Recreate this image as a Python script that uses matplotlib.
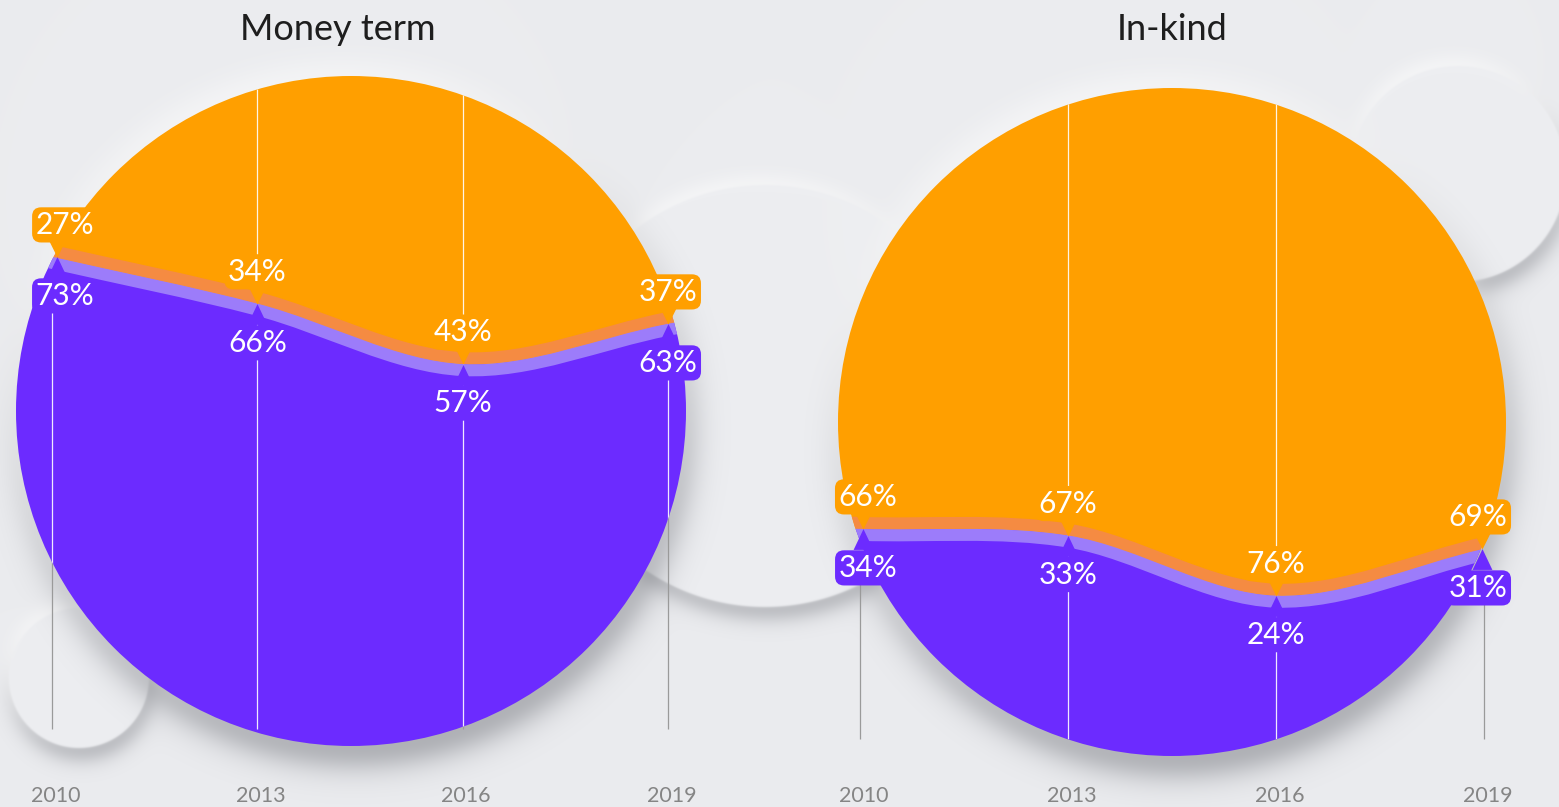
import matplotlib
matplotlib.use("Agg")
import matplotlib.pyplot as plt
from matplotlib.patches import Circle, PathPatch
from matplotlib.path import Path
from matplotlib import transforms
import numpy as np

plt.rcParams['font.family'] = ['Lato', 'DejaVu Sans']

# data
years = [2010, 2013, 2016, 2019]
money_cash = [73, 66, 57, 63]     # purple part
money_other = [27, 34, 43, 37]    # orange part
kind_cash = [34, 33, 24, 31]
kind_other = [66, 67, 76, 69]
titles = ["Money term", "In-kind"]

BG = "#EBECEF"
ORANGE = "#FF9F00"
PURPLE = "#6C2BFF"
ORANGE_BAND = "#F58B42"
PURPLE_BAND = "#9C7CFA"

W, H = 1559, 807
fig = plt.figure(figsize=(W / 100, H / 100), dpi=100, facecolor=BG)

# panel layout: (left px, top px, size px), line x pixels of first/last year, title x
panels = [
    dict(box=(16, 76, 670), xpix=(52, 668), tx=338, cash=money_cash, other=money_other,
         title=titles[0], lab_dx=[13, 0, 0, 0]),
    dict(box=(838, 88, 668), xpix=(860, 1484), tx=1172, cash=kind_cash, other=kind_other,
         title=titles[1], lab_dx=[8, 0, 0, -6]),
]
decor = [(79, 678, 70), (765, 396, 211), (1458, 174, 108)]

# soft background: blurred shadows / glows of all circles
yy, xx = np.mgrid[0:H, 0:W] + 0.5
img = np.ones((H, W, 3)) * np.array(matplotlib.colors.to_rgb(BG))


def blend(cx, cy, r, s, amax, color):
    d = np.hypot(xx - cx, yy - cy) - r
    a = amax / (1 + np.exp(np.clip(d / s, -40, 40)))
    img[:] = img * (1 - a[..., None]) + np.array(matplotlib.colors.to_rgb(color)) * a[..., None]


def neu(cx, cy, r, k, dark, face=None):
    blend(cx + 3 * k, cy + 12 * k, r, 6.5 * k, dark, '#383b44')
    blend(cx - 3 * k, cy - 8 * k, r, 6 * k, 0.75, '#ffffff')
    if face:
        blend(cx, cy, r, 0.6, 1.0, face)


for cx, cy, r in decor:
    neu(cx, cy, r, 0.9, 0.36, face='#EDEEF1')
for p in panels:
    x0, y0, s = p['box']
    neu(x0 + s / 2, y0 + s / 2, s / 2, 1.45, 0.46)

bg = fig.add_axes([0, 0, 1, 1])
bg.imshow(img, extent=(0, W, H, 0), interpolation='bilinear')
bg.set_xlim(0, W)
bg.set_ylim(H, 0)
bg.axis('off')


def smooth(xs, ys):
    pts = np.column_stack([xs, ys]).astype(float)
    verts = [pts[0]]
    codes = [Path.MOVETO]
    for i in range(len(pts) - 1):
        p0 = pts[max(i - 1, 0)]
        p1 = pts[i]
        p2 = pts[i + 1]
        p3 = pts[min(i + 2, len(pts) - 1)]
        verts += [p1 + (p2 - p0) / 6, p2 - (p3 - p1) / 6, p2]
        codes += [Path.CURVE4] * 3
    return verts, codes


down_tri = Path([(0, -1), (-1, 1), (1, 1), (0, -1)], closed=True)
up_tri = Path([(0, 1), (-0.95, -1), (0.95, -1), (0, 1)], closed=True)

for p in panels:
    x0, y0, s = p['box']

    ax = fig.add_axes([x0 / W, 1 - (y0 + s) / H, s / W, s / H])
    ax.patch.set_visible(False)
    ax.axis('off')
    a = (p['xpix'][0] - x0) / s
    b = (p['xpix'][1] - x0) / s
    span = (years[-1] - years[0]) / (b - a)
    xmin = years[0] - a * span
    ax.set_xlim(xmin, xmin + span)
    ax.set_ylim(0, 100)

    circ = Circle((0.5, 0.5), 0.5, transform=ax.transAxes, fc='none', ec='none')
    ax.add_patch(circ)

    cash = p['cash']
    xs = [years[0] - 3] + years + [years[-1] + 3]
    ys = [2 * cash[0] - cash[1]] + cash + [2 * cash[-1] - cash[-2]]
    verts, codes = smooth(xs, ys)

    low = Path(verts + [(xs[-1], -60), (xs[0], -60), (xs[0], -60)],
               codes + [Path.LINETO, Path.LINETO, Path.CLOSEPOLY])
    high = Path(verts + [(xs[-1], 160), (xs[0], 160), (xs[0], 160)],
                codes + [Path.LINETO, Path.LINETO, Path.CLOSEPOLY])
    line = Path(verts, codes)

    # grey guide lines behind the circle
    edge_top = [v - 6 for v in cash]
    ax.vlines(years, 2.5, edge_top, colors='#9a9a9a', lw=0.9, zorder=1, clip_on=False)

    for path, col in [(low, PURPLE), (high, ORANGE)]:
        pp = PathPatch(path, fc=col, ec='none', zorder=2)
        ax.add_patch(pp)
        pp.set_clip_path(circ)

    # white guide lines inside the circle
    tops = [edge_top[0], 98, 98, edge_top[-1]]
    wl = ax.vlines(years, 2.5, tops, colors='white', lw=0.9, alpha=0.9, zorder=2.5)
    wl.set_clip_path(circ)

    # bands along the boundary
    for off, col in [(6, ORANGE_BAND), (-6, PURPLE_BAND)]:
        tr = transforms.offset_copy(ax.transData, fig=fig, x=0, y=off, units='dots')
        band = PathPatch(line, fc='none', ec=col, lw=8.6, capstyle='butt', transform=tr, zorder=3)
        ax.add_patch(band)
        band.set_clip_path(circ)

    # pointers and value labels
    for yr, c, o, dx in zip(years, cash, p['other'], p['lab_dx']):
        tr_up = transforms.offset_copy(ax.transData, fig=fig, x=dx * 0.4, y=8, units='dots')
        ax.plot([yr], [c], marker=down_tri, ms=11.5, color=ORANGE, mew=0,
                transform=tr_up, zorder=4, clip_on=False)
        tr_dn = transforms.offset_copy(ax.transData, fig=fig, x=dx * 0.4, y=-10.5, units='dots')
        ax.plot([yr], [c], marker=up_tri, ms=15, color=PURPLE, mew=0,
                transform=tr_dn, zorder=4, clip_on=False)
        box = dict(boxstyle='round,pad=0.12,rounding_size=0.3', ec='none')
        ax.annotate(f"{o}%", xy=(yr, c), xytext=(dx, 32), textcoords='offset pixels',
                    ha='center', va='center', fontsize=21.5, color='white', zorder=5,
                    bbox=dict(box, fc=ORANGE), annotation_clip=False)
        ax.annotate(f"{c}%", xy=(yr, c), xytext=(dx, -39), textcoords='offset pixels',
                    ha='center', va='center', fontsize=21.5, color='white', zorder=5,
                    bbox=dict(box, fc=PURPLE), annotation_clip=False)

    # year labels
    ytr = transforms.blended_transform_factory(ax.transData, fig.transFigure)
    for yr in years:
        ax.text(yr + 0.05, 1 - 796 / H, str(yr), transform=ytr, ha='center', va='center',
                fontsize=15.5, color='#858585', clip_on=False)

    fig.text(p['tx'] / W, 1 - 30 / H, p['title'], ha='center', va='center',
             fontsize=26, color='#1e1e1e')

fig.savefig('out.png', dpi=100, facecolor=BG)
